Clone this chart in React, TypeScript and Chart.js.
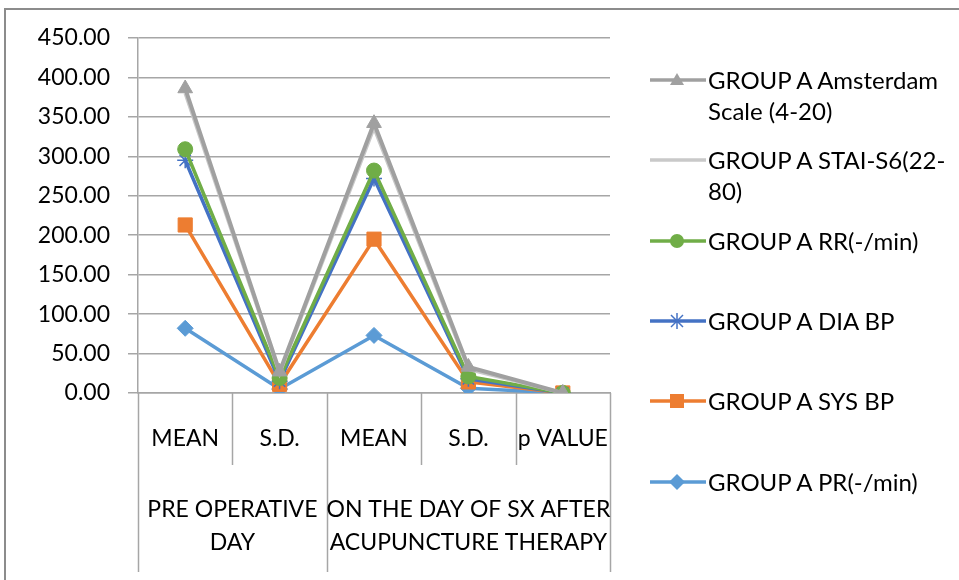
import React, { useEffect, useRef } from "react";
import { Chart, registerables } from "chart.js";

Chart.register(...registerables);

// ---- data ----
const categories = ["MEAN", "S.D.", "MEAN", "S.D.", "p VALUE"];
const groupLabels = [
  ["PRE OPERATIVE", "DAY"],
  ["ON THE DAY OF SX AFTER", "ACUPUNCTURE THERAPY"],
];
const groupSpans = [2, 3];

const yMin = 0;
const yMax = 450;
const yStep = 50;

// raw (un-stacked) values, bottom of stack first
const prValues = [82, 5, 73, 6, 0.02];
const sysValues = [131, 6, 122, 8, 0.02];
const diaValues = [82, 4, 77, 4, 0.02];
const rrValues = [14, 4, 10, 3, 0.02];
const staiValues = [71, 6, 54, 9, 0.02];
const amsValues = [6, 2, 6, 3, 0.02];

const seriesNames = [
  "GROUP A PR(-/min)",
  "GROUP A SYS BP",
  "GROUP A DIA BP",
  "GROUP A RR(-/min)",
  "GROUP A STAI-S6(22-80)",
  "GROUP A Amsterdam Scale (4-20)",
];
const seriesValues = [prValues, sysValues, diaValues, rrValues, staiValues, amsValues];
const seriesColors = ["#5b9bd5", "#ed7d31", "#4472c4", "#70ad47", "#c9c9c9", "#a0a0a0"];
const seriesMarkers = ["rectRot", "rect", "star", "circle", "none", "triangle"];
const markerRadius: Record<string, number> = { rectRot: 8, rect: 10, star: 8, circle: 7.5, none: 0, triangle: 8.5 };

const FONT = "Lato, 'Open Sans', sans-serif";
const FONT_SIZE = 23;
const LEGEND_FONT_SIZE = 24;
const GRID = "#a6a6a6";

function LegendIcon({ color, marker }: { color: string; marker: string }) {
  const cx = 27, cy = 10;
  let m: React.ReactNode = null;
  if (marker === "triangle") m = <polygon points={`${cx},${cy - 7} ${cx + 7},${cy + 5} ${cx - 7},${cy + 5}`} fill={color} />;
  else if (marker === "circle") m = <circle cx={cx} cy={cy} r={7} fill={color} />;
  else if (marker === "rect") m = <rect x={cx - 7} y={cy - 7} width={14} height={14} fill={color} />;
  else if (marker === "rectRot") m = <polygon points={`${cx},${cy - 8} ${cx + 8},${cy} ${cx},${cy + 8} ${cx - 8},${cy}`} fill={color} />;
  else if (marker === "star")
    m = (
      <g stroke={color} strokeWidth={1.5}>
        <line x1={cx - 8} y1={cy} x2={cx + 8} y2={cy} />
        <line x1={cx} y1={cy - 8} x2={cx} y2={cy + 8} />
        <line x1={cx - 6} y1={cy - 6} x2={cx + 6} y2={cy + 6} />
        <line x1={cx - 6} y1={cy + 6} x2={cx + 6} y2={cy - 6} />
      </g>
    );
  return (
    <svg width={56} height={20} style={{ display: "block" }}>
      <line x1={0} y1={cy} x2={56} y2={cy} stroke={color} strokeWidth={3.5} />
      {m}
    </svg>
  );
}

export default function App() {
  const ref = useRef<HTMLCanvasElement>(null);

  useEffect(() => {
    if (!ref.current) return;
    // cumulative stack values
    const cumulative: number[][] = [];
    seriesValues.forEach((vals, s) => {
      cumulative.push(vals.map((v, i) => v + (s > 0 ? cumulative[s - 1][i] : 0)));
    });
    // datasets: top of stack listed first so it is drawn on top
    const order = [5, 4, 3, 2, 1, 0];
    const datasets = order.map((s) => ({
      label: seriesNames[s],
      data: cumulative[s],
      borderColor: seriesColors[s],
      backgroundColor: seriesColors[s],
      pointBackgroundColor: seriesColors[s],
      pointBorderColor: seriesColors[s],
      borderWidth: s === 5 ? 4 : 3.5,
      pointStyle: seriesMarkers[s] === "none" ? false : seriesMarkers[s],
      pointRadius: markerRadius[seriesMarkers[s]],
      pointBorderWidth: seriesMarkers[s] === "star" ? 1.5 : 1,
      tension: 0,
      fill: false,
    }));

    const decor = {
      id: "axisDecor",
      afterDraw(chart: any) {
        const ctx = chart.ctx;
        const x = chart.scales.x;
        const ca = chart.chartArea;
        const n = categories.length;
        const half = (x.getPixelForValue(1) - x.getPixelForValue(0)) / 2;
        const bound = (i: number) => (i < n ? x.getPixelForValue(i) - half : x.getPixelForValue(n - 1) + half);
        const groupBounds = [0];
        groupSpans.forEach((s) => groupBounds.push(groupBounds[groupBounds.length - 1] + s));
        ctx.save();
        ctx.strokeStyle = GRID;
        ctx.lineWidth = 1.5;
        for (let i = 0; i <= n; i++) {
          const bx = Math.round(bound(i)) + 0.5;
          const long = groupBounds.includes(i);
          ctx.beginPath();
          ctx.moveTo(bx, ca.bottom);
          ctx.lineTo(bx, ca.bottom + (long ? 179 : 72));
          ctx.stroke();
        }
        ctx.fillStyle = "#000";
        ctx.font = `${FONT_SIZE}px ${FONT}`;
        ctx.textAlign = "center";
        ctx.textBaseline = "middle";
        groupLabels.forEach((lines, g) => {
          const cx = (bound(groupBounds[g]) + bound(groupBounds[g + 1])) / 2;
          lines.forEach((t, k) => ctx.fillText(t, cx, ca.bottom + 117 + k * 33));
        });
        ctx.restore();
      },
    };

    const chart = new Chart(ref.current, {
      type: "line",
      data: { labels: categories, datasets },
      options: {
        animation: false,
        responsive: false,
        maintainAspectRatio: false,
        layout: { padding: { left: 0, right: 349, top: 38, bottom: 0 } },
        plugins: { legend: { display: false }, tooltip: { enabled: false } },
        scales: {
          x: {
            offset: true,
            grid: { display: true, drawOnChartArea: false, drawTicks: false, color: GRID },
            border: { display: true, color: GRID, width: 1.5 },
            ticks: { color: "#000", font: { family: FONT, size: FONT_SIZE }, padding: 32, maxRotation: 0, autoSkip: false },
            afterFit: (s: any) => { s.height = 187; },
          },
          y: {
            min: yMin,
            max: yMax,
            grid: { color: GRID, lineWidth: 1.5, tickLength: 10, drawTicks: true },
            border: { display: true, color: GRID, width: 1.5 },
            ticks: {
              stepSize: yStep,
              color: "#000",
              padding: 18,
              font: { family: FONT, size: FONT_SIZE },
              callback: (v: any) => Number(v).toFixed(2),
            },
            afterFit: (s: any) => { s.width = 138; },
          },
        },
      },
      plugins: [decor],
    });
    return () => chart.destroy();
  }, []);

  const legendTops = [80, 160, 241, 321, 401, 482];
  const legendOrder = [5, 4, 3, 2, 1, 0];

  return (
    <div style={{ position: "fixed", left: 0, top: 0, width: 959, height: 580, background: "#fff", overflow: "hidden" }}>
      <div style={{ position: "absolute", left: 4, top: 8, width: 1000, height: 1000, border: "2px solid #8c8c8c", boxSizing: "border-box" }} />
      <canvas ref={ref} width={959} height={580} style={{ position: "absolute", left: 0, top: 0 }} />
      {legendOrder.map((s, k) => (
        <div key={s} style={{ position: "absolute", left: 650, top: legendTops[k] - 16, width: 300 }}>
          <div style={{ position: "absolute", left: 0, top: 6 }}>
            <LegendIcon color={seriesColors[s]} marker={seriesMarkers[s]} />
          </div>
          <div style={{ position: "absolute", left: 58, top: 0, width: 245, fontFamily: FONT, fontSize: LEGEND_FONT_SIZE, lineHeight: "31px", color: "#000" }}>
            {seriesNames[s]}
          </div>
        </div>
      ))}
    </div>
  );
}
